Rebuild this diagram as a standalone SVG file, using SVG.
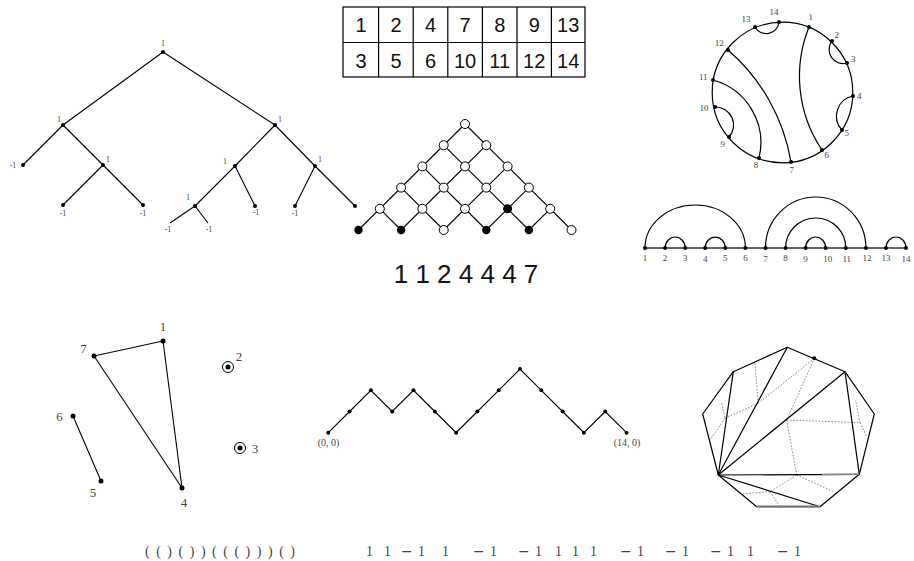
<svg xmlns="http://www.w3.org/2000/svg" width="914" height="561" viewBox="0 0 914 561">
<style>
.e{stroke:#000;stroke-width:1.1;fill:none}
.g{stroke:#000;stroke-width:1.2;fill:none}
.dt{fill:#000}
.oc{fill:#fff;stroke:#000;stroke-width:1}
.lab{font-family:"Liberation Serif","DejaVu Serif",serif;fill:#444}
.t8{font-size:8px}
.t9{font-size:9px}
.t10{font-size:10px}
.t13{font-size:13px}
.sans{font-family:"Liberation Sans","DejaVu Sans",sans-serif;fill:#111}
.dual{stroke:#8a8a8a;stroke-width:1;stroke-dasharray:1.6 1.6;fill:none}
.mn{font-family:"DejaVu Serif",serif}
</style>
<rect width="914" height="561" fill="#fff"/>

<!-- Binary tree -->
<g id="tree">
<g id="tree-edges" class="e">
<line x1="163" y1="52" x2="63" y2="125"/>
<line x1="163" y1="52" x2="275" y2="125"/>
<line x1="63" y1="125" x2="23" y2="165"/>
<line x1="63" y1="125" x2="103" y2="165"/>
<line x1="103" y1="165" x2="63" y2="205"/>
<line x1="103" y1="165" x2="143" y2="205"/>
<line x1="275" y1="125" x2="235" y2="166"/>
<line x1="275" y1="125" x2="315" y2="166"/>
<line x1="235" y1="166" x2="195" y2="206"/>
<line x1="235" y1="166" x2="255" y2="206"/>
<line x1="195" y1="206" x2="170" y2="223"/>
<line x1="195" y1="206" x2="208" y2="223"/>
<line x1="315" y1="166" x2="295" y2="206"/>
<line x1="315" y1="166" x2="355" y2="206"/>
</g>
<g class="lab t8" text-anchor="middle">
<g id="t-root"><circle class="dt" cx="163" cy="52" r="2"/><text x="163" y="46">1</text></g>
<g id="t-l"><circle class="dt" cx="63" cy="125" r="2"/><text x="59" y="122">1</text></g>
<g id="t-ll"><circle class="dt" cx="23" cy="165" r="2"/><text x="13" y="168">-1</text></g>
<g id="t-lr"><circle class="dt" cx="103" cy="165" r="2"/><text x="108" y="162">1</text></g>
<g id="t-lrl"><circle class="dt" cx="63" cy="205" r="2"/><text x="63" y="216">-1</text></g>
<g id="t-lrr"><circle class="dt" cx="143" cy="205" r="2"/><text x="143" y="216">-1</text></g>
<g id="t-r"><circle class="dt" cx="275" cy="125" r="2"/><text x="280" y="122">1</text></g>
<g id="t-rl"><circle class="dt" cx="235" cy="166" r="2"/><text x="225" y="164">1</text></g>
<g id="t-rll"><circle class="dt" cx="195" cy="206" r="2"/><text x="188" y="200">1</text></g>
<g id="t-rlll"><text x="168" y="232">-1</text></g>
<g id="t-rllr"><text x="209" y="232">-1</text></g>
<g id="t-rlr"><circle class="dt" cx="255" cy="206" r="2"/><text x="256" y="215">-1</text></g>
<g id="t-rr"><circle class="dt" cx="315" cy="166" r="2"/><text x="320" y="162">1</text></g>
<g id="t-rrl"><circle class="dt" cx="295" cy="206" r="2"/><text x="295" y="216">-1</text></g>
<g id="t-rrr"><circle class="dt" cx="355" cy="206" r="2"/></g>
</g>
</g>

<!-- Tableau -->
<g id="tableau">
<g stroke="#000" stroke-width="1.2" fill="none">
<rect x="343" y="7" width="242" height="70"/>
<line x1="343" y1="42.5" x2="585" y2="42.5"/>
<line x1="378.6" y1="7" x2="378.6" y2="77"/>
<line x1="413.2" y1="7" x2="413.2" y2="77"/>
<line x1="447.8" y1="7" x2="447.8" y2="77"/>
<line x1="482.4" y1="7" x2="482.4" y2="77"/>
<line x1="517" y1="7" x2="517" y2="77"/>
<line x1="551.4" y1="7" x2="551.4" y2="77"/>
</g>
<g class="sans" font-size="20" text-anchor="middle">
<text x="361" y="32">1</text><text x="396" y="32">2</text><text x="430.5" y="32">4</text><text x="465" y="32">7</text><text x="499.7" y="32">8</text><text x="534.2" y="32">9</text><text x="568.2" y="32">13</text>
<text x="361" y="67.5">3</text><text x="396" y="67.5">5</text><text x="430.5" y="67.5">6</text><text x="465" y="67.5">10</text><text x="499.7" y="67.5">11</text><text x="534.2" y="67.5">12</text><text x="568.2" y="67.5">14</text>
</g>
</g>

<!-- Chord circle -->
<g id="chords">
<circle cx="782.5" cy="92.5" r="70.3" class="g"/>
<g class="g">
<path d="M809,27 A132,132 0 0 0 822,150"/>
<path d="M728,50 A190,190 0 0 1 791,162"/>
<path d="M713,80 A65,65 0 0 1 759,158"/>
<path d="M832,41 A14,14 0 0 0 847,63"/>
<path d="M853,96 A20.4,20.4 0 0 0 842,130"/>
<path d="M729,137 A18,18 0 0 0 715,107"/>
<path d="M755,27 A12.8,12.8 0 0 0 779,22"/>
</g>
<g class="dt">
<circle cx="809" cy="27" r="2"/><circle cx="832" cy="41" r="2"/><circle cx="847" cy="63" r="2"/><circle cx="853" cy="96" r="2"/><circle cx="842" cy="130" r="2"/><circle cx="822" cy="150" r="2"/><circle cx="791" cy="162" r="2"/><circle cx="759" cy="158" r="2"/><circle cx="729" cy="137" r="2"/><circle cx="715" cy="107" r="2"/><circle cx="713" cy="80" r="2"/><circle cx="728" cy="50" r="2"/><circle cx="755" cy="27" r="2"/><circle cx="779" cy="22" r="2"/>
</g>
<g class="lab t9" text-anchor="middle">
<text x="810.7" y="20">1</text><text x="836.7" y="37.5">2</text><text x="853.3" y="61.5">3</text><text x="859.3" y="99">4</text><text x="846.7" y="135.5">5</text><text x="826.7" y="158">6</text><text x="791.7" y="172.5">7</text><text x="756" y="168">8</text><text x="722.7" y="146.5">9</text><text x="704" y="110.5">10</text><text x="703.3" y="80">11</text><text x="719.3" y="46">12</text><text x="746" y="22">13</text><text x="774" y="15">14</text>
</g>
</g>

<!-- Lattice -->
<g id="lattice">
<g class="e">
<line x1="465" y1="124" x2="358.5" y2="230"/>
<line x1="486.3" y1="145.2" x2="401.1" y2="230"/>
<line x1="507.6" y1="166.4" x2="443.7" y2="230"/>
<line x1="528.9" y1="187.6" x2="486.3" y2="230"/>
<line x1="550.2" y1="208.8" x2="528.9" y2="230"/>
<line x1="465" y1="124" x2="571.5" y2="230"/>
<line x1="443.7" y1="145.2" x2="528.9" y2="230"/>
<line x1="422.4" y1="166.4" x2="486.3" y2="230"/>
<line x1="401.1" y1="187.6" x2="443.7" y2="230"/>
<line x1="379.8" y1="208.8" x2="401.1" y2="230"/>
</g>
<g class="oc">
<circle cx="465" cy="124" r="4.5"/>
<circle cx="443.7" cy="145.2" r="4.5"/><circle cx="486.3" cy="145.2" r="4.5"/>
<circle cx="422.4" cy="166.4" r="4.5"/><circle cx="465" cy="166.4" r="4.5"/><circle cx="507.6" cy="166.4" r="4.5"/>
<circle cx="401.1" cy="187.6" r="4.5"/><circle cx="443.7" cy="187.6" r="4.5"/><circle cx="486.3" cy="187.6" r="4.5"/><circle cx="528.9" cy="187.6" r="4.5"/>
<circle cx="379.8" cy="208.8" r="4.5"/><circle cx="422.4" cy="208.8" r="4.5"/><circle cx="465" cy="208.8" r="4.5"/><circle cx="550.2" cy="208.8" r="4.5"/>
<circle cx="443.7" cy="230" r="4.5"/><circle cx="571.5" cy="230" r="4.5"/>
</g>
<g class="dt">
<circle cx="507.6" cy="208.8" r="4.5"/>
<circle cx="358.5" cy="230" r="4.2"/><circle cx="401.1" cy="230" r="4.2"/><circle cx="486.3" cy="230" r="4.2"/><circle cx="528.9" cy="230" r="4.2"/>
</g>
<text class="sans" x="466" y="283" font-size="26" text-anchor="middle">1 1 2 4 4 4 7</text>
</g>

<!-- Arc diagram -->
<g id="arcs">
<line x1="645" y1="248" x2="906" y2="248" stroke="#333" stroke-width="1.5"/>
<g class="g">
<path d="M645,248 A50.2,43 0 0 1 745.4,248"/>
<path d="M665.1,248 A10.05,11 0 0 1 685.2,248"/>
<path d="M705.2,248 A10.05,11 0 0 1 725.3,248"/>
<path d="M765.5,248 A50.2,51 0 0 1 865.9,248"/>
<path d="M785.6,248 A30.1,30 0 0 1 845.8,248"/>
<path d="M805.6,248 A10.05,11 0 0 1 825.7,248"/>
<path d="M886,248 A10,11 0 0 1 906,248"/>
</g>
<g class="dt">
<circle cx="645" cy="248" r="2"/><circle cx="665.1" cy="248" r="2"/><circle cx="685.2" cy="248" r="2"/><circle cx="705.2" cy="248" r="2"/><circle cx="725.3" cy="248" r="2"/><circle cx="745.4" cy="248" r="2"/><circle cx="765.5" cy="248" r="2"/><circle cx="785.6" cy="248" r="2"/><circle cx="805.6" cy="248" r="2"/><circle cx="825.7" cy="248" r="2"/><circle cx="845.8" cy="248" r="2"/><circle cx="865.9" cy="248" r="2"/><circle cx="886" cy="248" r="2"/><circle cx="906" cy="248" r="2"/>
</g>
<g class="lab t9" text-anchor="middle">
<text x="645" y="261">1</text><text x="665.1" y="261">2</text><text x="685.2" y="261">3</text><text x="705.2" y="262">4</text><text x="725.3" y="261">5</text><text x="745.4" y="261">6</text><text x="765.5" y="262">7</text><text x="785.6" y="261">8</text><text x="805.6" y="262">9</text><text x="827.7" y="262">10</text><text x="846.8" y="262">11</text><text x="866.9" y="261">12</text><text x="886" y="261">13</text><text x="906" y="262">14</text>
</g>
</g>

<!-- Partial matching -->
<g id="matching">
<g class="e">
<line x1="94" y1="356" x2="163" y2="341"/>
<line x1="163" y1="341" x2="182" y2="488"/>
<line x1="94" y1="356" x2="182" y2="488"/>
<line x1="73" y1="416" x2="101" y2="481"/>
</g>
<g id="m1"><circle class="dt" cx="163" cy="341" r="2.5"/><text class="lab t13" x="163" y="331" text-anchor="middle">1</text></g>
<g id="m2"><circle cx="228" cy="367" r="5.5" fill="none" stroke="#000" stroke-width="1"/><circle class="dt" cx="228" cy="367" r="2.5"/><text class="lab t13" x="239" y="361" text-anchor="middle">2</text></g>
<g id="m3"><circle cx="240" cy="448" r="5.5" fill="none" stroke="#000" stroke-width="1"/><circle class="dt" cx="240" cy="448" r="2.5"/><text class="lab t13" x="255" y="453" text-anchor="middle">3</text></g>
<g id="m4"><circle class="dt" cx="182" cy="488" r="2.5"/><text class="lab t13" x="184" y="507" text-anchor="middle">4</text></g>
<g id="m5"><circle class="dt" cx="101" cy="481" r="2.5"/><text class="lab t13" x="93" y="497" text-anchor="middle">5</text></g>
<g id="m6"><circle class="dt" cx="73" cy="416" r="2.5"/><text class="lab t13" x="59.5" y="421" text-anchor="middle">6</text></g>
<g id="m7"><circle class="dt" cx="94" cy="356" r="2.5"/><text class="lab t13" x="83.5" y="353" text-anchor="middle">7</text></g>
</g>

<!-- Dyck path -->
<g id="dyck">
<polyline class="e" points="328.3,432.7 349.6,411.5 370.9,390.3 392.2,411.5 413.5,390.3 434.8,411.5 456.1,432.7 477.4,411.5 498.7,390.3 520,369.1 541.3,390.3 562.6,411.5 583.9,432.7 605.2,411.5 626.5,432.7"/>
<g class="dt">
<circle cx="328.3" cy="432.7" r="2"/><circle cx="349.6" cy="411.5" r="2"/><circle cx="370.9" cy="390.3" r="2"/><circle cx="392.2" cy="411.5" r="2"/><circle cx="413.5" cy="390.3" r="2"/><circle cx="434.8" cy="411.5" r="2"/><circle cx="456.1" cy="432.7" r="2"/><circle cx="477.4" cy="411.5" r="2"/><circle cx="498.7" cy="390.3" r="2"/><circle cx="520" cy="369.1" r="2"/><circle cx="541.3" cy="390.3" r="2"/><circle cx="562.6" cy="411.5" r="2"/><circle cx="583.9" cy="432.7" r="2"/><circle cx="605.2" cy="411.5" r="2"/><circle cx="626.5" cy="432.7" r="2"/>
</g>
<text class="lab t10" x="328.5" y="445.5" text-anchor="middle">(0, 0)</text>
<text class="lab t10" x="627" y="445.5" text-anchor="middle">(14, 0)</text>
</g>

<!-- Triangulated polygon -->
<g id="polygon">
<g class="dual">
<line x1="814.3" y1="358.3" x2="758.3" y2="403.3"/>
<line x1="758.3" y1="403.3" x2="725" y2="418.3"/>
<line x1="755" y1="363.3" x2="758.3" y2="403.3"/>
<line x1="721.7" y1="403.3" x2="725" y2="418.3"/>
<line x1="725" y1="418.3" x2="710" y2="440"/>
<line x1="814.3" y1="358.3" x2="786.7" y2="420"/>
<line x1="786.7" y1="420" x2="860" y2="422.7"/>
<line x1="860" y1="422.7" x2="855.7" y2="400"/>
<line x1="860" y1="422.7" x2="866.7" y2="436.7"/>
<line x1="786.7" y1="420" x2="796.7" y2="475"/>
<line x1="796.7" y1="475" x2="833.3" y2="491.7"/>
<line x1="796.7" y1="475" x2="770" y2="491.7"/>
<line x1="770" y1="491.7" x2="780" y2="506.7"/>
<line x1="770" y1="491.7" x2="741.7" y2="494"/>
</g>
<g class="g" stroke-linejoin="round">
<polyline points="756.7,506.7 718.3,475 702.7,414 733.3,371.7 787.3,347.3 845,371.7 874.3,414 859.3,474.3 820,506.7"/>
<line x1="718.3" y1="475" x2="733.3" y2="371.7"/>
<line x1="718.3" y1="475" x2="787.3" y2="347.3"/>
<line x1="718.3" y1="475" x2="845" y2="371.7"/>
<line x1="845" y1="371.7" x2="859.3" y2="474.3"/>
<line x1="718.3" y1="475" x2="859.3" y2="474.3"/>
<line x1="718.3" y1="475" x2="820" y2="506.7"/>
</g>
<line x1="822" y1="474.5" x2="859.3" y2="474.3" stroke="#888" stroke-width="1.4"/>
<line x1="756.7" y1="506.7" x2="820" y2="506.7" stroke="#777" stroke-width="2.2"/>
<circle class="dt" cx="814.3" cy="358.3" r="2"/>
</g>

<!-- Bottom words -->
<text id="parens" class="lab" font-size="14" fill="#222" x="145" y="556" textLength="150" lengthAdjust="spacing">( ( ) ( ) ) ( ( ( ) ) ) ( )</text>
<text id="signs" class="lab" font-size="14" fill="#222" y="556"><tspan x="366">1</tspan><tspan x="384">1</tspan><tspan class="mn" x="401">−</tspan><tspan x="418">1</tspan><tspan x="442">1</tspan><tspan class="mn" x="473">−</tspan><tspan x="490">1</tspan><tspan class="mn" x="518">−</tspan><tspan x="535">1</tspan><tspan x="555">1</tspan><tspan x="572">1</tspan><tspan x="590">1</tspan><tspan class="mn" x="620">−</tspan><tspan x="637">1</tspan><tspan class="mn" x="665">−</tspan><tspan x="682">1</tspan><tspan class="mn" x="710">−</tspan><tspan x="727">1</tspan><tspan x="747">1</tspan><tspan class="mn" x="777">−</tspan><tspan x="794">1</tspan></text>
</svg>
